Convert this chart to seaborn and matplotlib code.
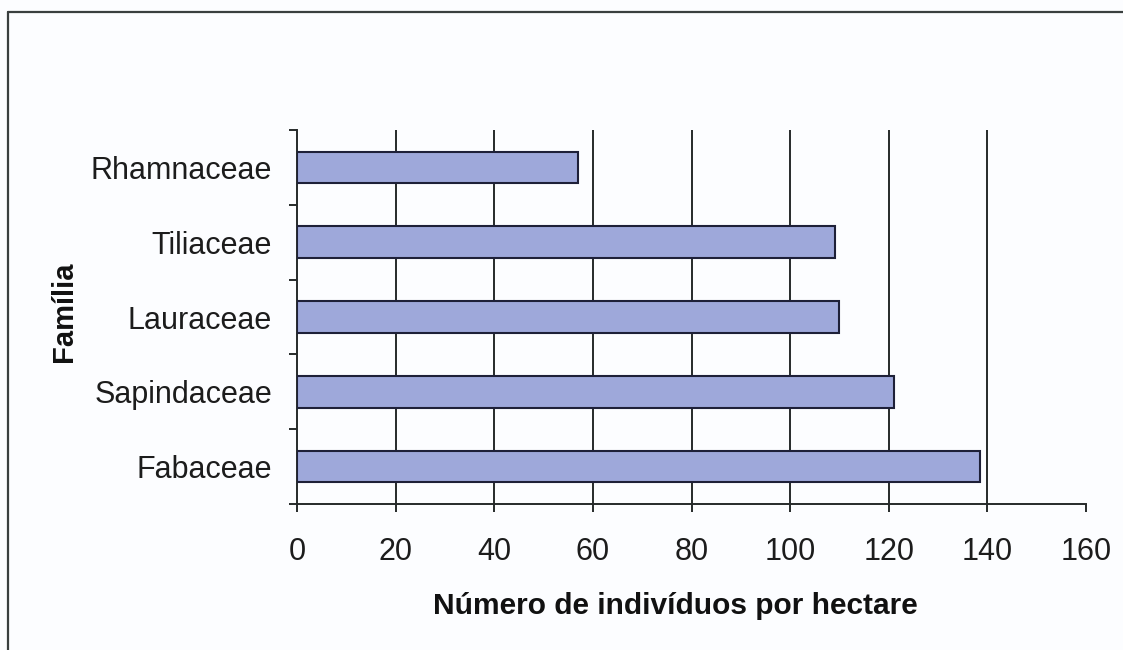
import matplotlib
matplotlib.use("Agg")
import matplotlib.pyplot as plt
from matplotlib.lines import Line2D
from matplotlib.ticker import FixedLocator
import pandas as pd
import seaborn as sns

# Plant families and their density (individuals per hectare)
familias = ["Rhamnaceae", "Tiliaceae", "Lauraceae", "Sapindaceae", "Fabaceae"]
individuos = [57, 109, 110, 121, 138.5]
x_ticks = [0, 20, 40, 60, 80, 100, 120, 140, 160]

df = pd.DataFrame({"Família": familias, "Indivíduos": individuos})

sns.set_theme(style="white")
plt.rcParams["font.family"] = ["Liberation Sans", "DejaVu Sans"]

line_col = "#262a2a"
bg = "#fcfdff"

fig = plt.figure(figsize=(11.23, 6.5), dpi=100, facecolor=bg)
ax = fig.add_axes([0.2645, 0.2246, 0.7026, 0.5754])
ax.set_facecolor(bg)

sns.barplot(data=df, x="Indivíduos", y="Família", order=familias,
            orient="h", width=0.42, color="#9ea8da", saturation=1,
            edgecolor="#1e2038", linewidth=1.5, ax=ax, zorder=3)

ax.set_xlim(x_ticks[0], x_ticks[-1])
ax.set_ylim(len(familias) - 0.5, -0.5)
ax.set_xticks(x_ticks)
ax.set_xticklabels([str(t) for t in x_ticks])

# vertical gridlines, none at the right end of the scale
ax.set_axisbelow(True)
ax.xaxis.grid(True, color=line_col, linewidth=1.4)
ax.yaxis.grid(False)
ax.get_xgridlines()[-1].set_visible(False)
ax.get_xgridlines()[0].set_visible(False)

for s in ["top", "right"]:
    ax.spines[s].set_visible(False)
for s in ["left", "bottom"]:
    ax.spines[s].set_color(line_col)
    ax.spines[s].set_linewidth(1.4)

# category ticks sit between the bars
ax.yaxis.set_minor_locator(FixedLocator([i - 0.5 for i in range(len(familias) + 1)]))
ax.tick_params(axis="y", which="major", length=0, pad=18, labelsize=22, labelcolor="#1c1c1c")
ax.tick_params(axis="y", which="minor", direction="out", length=5.5, width=1.4, color=line_col, left=True)
ax.tick_params(axis="x", which="major", direction="out", length=5.5, width=1.4, color=line_col,
               bottom=True, pad=18, labelsize=22, labelcolor="#1c1c1c")

ax.set_xlabel("Número de indivíduos por hectare", fontsize=21.5, fontweight="bold",
              color="#111111")
ax.xaxis.set_label_coords(0.48, -0.235)
ax.set_ylabel("Família", fontsize=21, fontweight="bold", color="#111111")
ax.yaxis.set_label_coords(-0.277, 0.513)

# chart frame
fig.add_artist(Line2D([0.0075, 0.0075], [-0.05, 0.981], transform=fig.transFigure,
                      color="#3a3f3f", linewidth=1.6))
fig.add_artist(Line2D([0.0075, 1.05], [0.981, 0.981], transform=fig.transFigure,
                      color="#3a3f3f", linewidth=1.6))

fig.savefig("out.png", dpi=100, facecolor=bg)
